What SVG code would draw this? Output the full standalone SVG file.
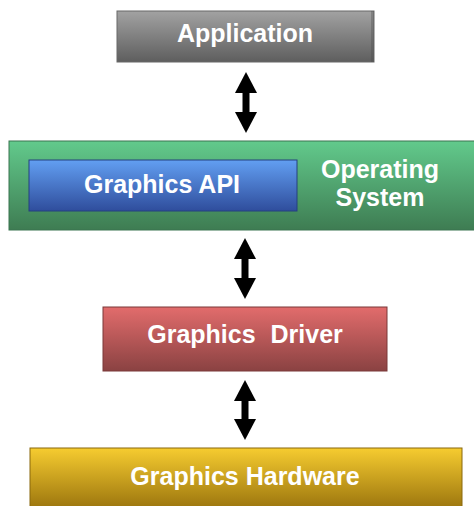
<svg xmlns="http://www.w3.org/2000/svg" width="474" height="506" viewBox="0 0 474 506">
  <defs>
    <linearGradient id="gGray" x1="0" y1="0" x2="0" y2="1">
      <stop offset="0" stop-color="#a2a2a2"/>
      <stop offset="1" stop-color="#5e5e5e"/>
    </linearGradient>
    <linearGradient id="gGreen" x1="0" y1="0" x2="0" y2="1">
      <stop offset="0" stop-color="#62ca8c"/>
      <stop offset="1" stop-color="#3e7c52"/>
    </linearGradient>
    <linearGradient id="gBlue" x1="0" y1="0" x2="0" y2="1">
      <stop offset="0" stop-color="#629ff2"/>
      <stop offset="1" stop-color="#2f4d9c"/>
    </linearGradient>
    <linearGradient id="gRed" x1="0" y1="0" x2="0" y2="1">
      <stop offset="0" stop-color="#e26c6c"/>
      <stop offset="1" stop-color="#8a4242"/>
    </linearGradient>
    <linearGradient id="gGold" x1="0" y1="0" x2="0" y2="1">
      <stop offset="0" stop-color="#f6cc30"/>
      <stop offset="1" stop-color="#9c760e"/>
    </linearGradient>
    <marker id="head" markerUnits="userSpaceOnUse" markerWidth="24" markerHeight="24" viewBox="0 -12 22 24" refX="0" refY="0" orient="auto-start-reverse">
      <path d="M0,-11 L21,0 L0,11 Z" fill="#000"/>
    </marker>
  </defs>
  <style>
    .box { stroke-width: 1; }
    .label { font-family: "Liberation Sans", Arial, sans-serif; font-weight: bold; font-size: 25px; fill: #ffffff; text-anchor: middle; }
    .link { stroke: #000; stroke-width: 7; fill: none; marker-start: url(#head); marker-end: url(#head); }
  </style>

  <g id="application">
    <rect class="box" x="117" y="11" width="257" height="51" fill="url(#gGray)" stroke="#686868"/>
    <rect x="371" y="11" width="3" height="51" fill="#4a4a4a" opacity="0.35"/>
    <text class="label" x="245" y="42">Application</text>
  </g>

  <g id="operating-system">
    <rect class="box" x="9" y="141" width="466" height="89" fill="url(#gGreen)" stroke="#3a7450"/>
    <text class="label" x="380" y="178">Operating</text>
    <text class="label" x="380" y="206">System</text>
  </g>

  <g id="graphics-api">
    <rect class="box" x="29" y="160" width="268" height="51" fill="url(#gBlue)" stroke="#24407f"/>
    <text class="label" x="162" y="193">Graphics API</text>
  </g>

  <g id="graphics-driver">
    <rect class="box" x="103" y="307" width="284" height="64" fill="url(#gRed)" stroke="#7a3838"/>
    <text class="label" x="245" y="343" word-spacing="8">Graphics Driver</text>
  </g>

  <g id="graphics-hardware">
    <rect class="box" x="30" y="448" width="432" height="60" fill="url(#gGold)" stroke="#8a680c"/>
    <text class="label" x="245" y="485">Graphics Hardware</text>
  </g>

  <g id="connectors">
    <line class="link" x1="246" y1="93" x2="246" y2="112"/>
    <line class="link" x1="245" y1="259" x2="245" y2="278"/>
    <line class="link" x1="245" y1="401" x2="245" y2="419"/>
  </g>
</svg>
